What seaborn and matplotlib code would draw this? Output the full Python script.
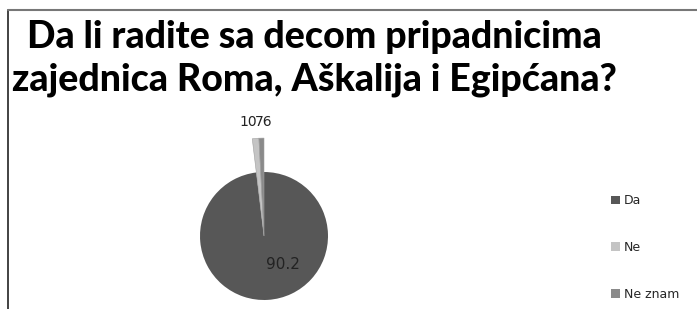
import matplotlib
matplotlib.use("Agg")
import matplotlib.pyplot as plt
import seaborn as sns
from matplotlib.lines import Line2D
from matplotlib.patches import Patch

# data
categories = ["Da", "Ne", "Ne znam"]
values = [90.2, 1.0, 0.76]
value_labels = ["90.2", "10", "76"]
colors = ["#575757", "#c4c4c4", "#8a8a8a"]
title = "Da li radite sa decom pripadnicima\nzajednica Roma, Aškalija i Egipćana?"

sns.set_style("white")
plt.rcParams["font.family"] = ["Lato", "DejaVu Sans"]

fig = plt.figure(figsize=(6.97, 3.09), dpi=100)

# frame around the chart area (left and top edges visible)
fig.add_artist(Line2D([8 / 697, 8 / 697], [0, 1 - 10 / 309], color="#222222", lw=1.2))
fig.add_artist(Line2D([8 / 697, 1], [1 - 10 / 309, 1 - 10 / 309], color="#777777", lw=1.5))

fig.text(314 / 697, 1 - 20 / 309, title, ha="center", va="top", fontsize=27,
         fontweight="black", color="#000000", linespacing=1.3)

# pie axes: 200x200 px box centred on (264, 236)
ax = fig.add_axes([164 / 697, (309 - 336) / 309, 200 / 697, 200 / 309])
wedges, _ = ax.pie(values, colors=colors, startangle=90, counterclock=False,
                   wedgeprops=dict(linewidth=0))
# the two small slices stick out of the pie
for w in wedges[1:]:
    w.set_radius(1.53)
    w.set_edgecolor("#a0a0a0")
    w.set_linewidth(0.4)
ax.set_xlim(-1.5625, 1.5625)
ax.set_ylim(-1.5625, 1.5625)
ax.set_aspect("equal")
ax.axis("off")

ax.text(0.3, -0.45, value_labels[0], fontsize=11, color="#222222",
        family=["DejaVu Sans"], ha="center", va="center")
ax.text(-0.25, 1.78, value_labels[1], fontsize=10, color="#222222",
        family=["DejaVu Sans"], ha="center", va="center", clip_on=False)
ax.text(0.0, 1.78, value_labels[2], fontsize=10, color="#222222",
        family=["DejaVu Sans"], ha="center", va="center", clip_on=False)

handles = [Patch(facecolor=c, edgecolor="none") for c in colors]
fig.legend(handles, categories, loc="upper left", bbox_to_anchor=(600 / 697, 1 - 183 / 309),
           frameon=False, handlelength=0.7, handleheight=0.7,
           handletextpad=0.3, labelspacing=2.7, prop={"family": "DejaVu Sans", "size": 9})

fig.savefig("out.png", dpi=100)
